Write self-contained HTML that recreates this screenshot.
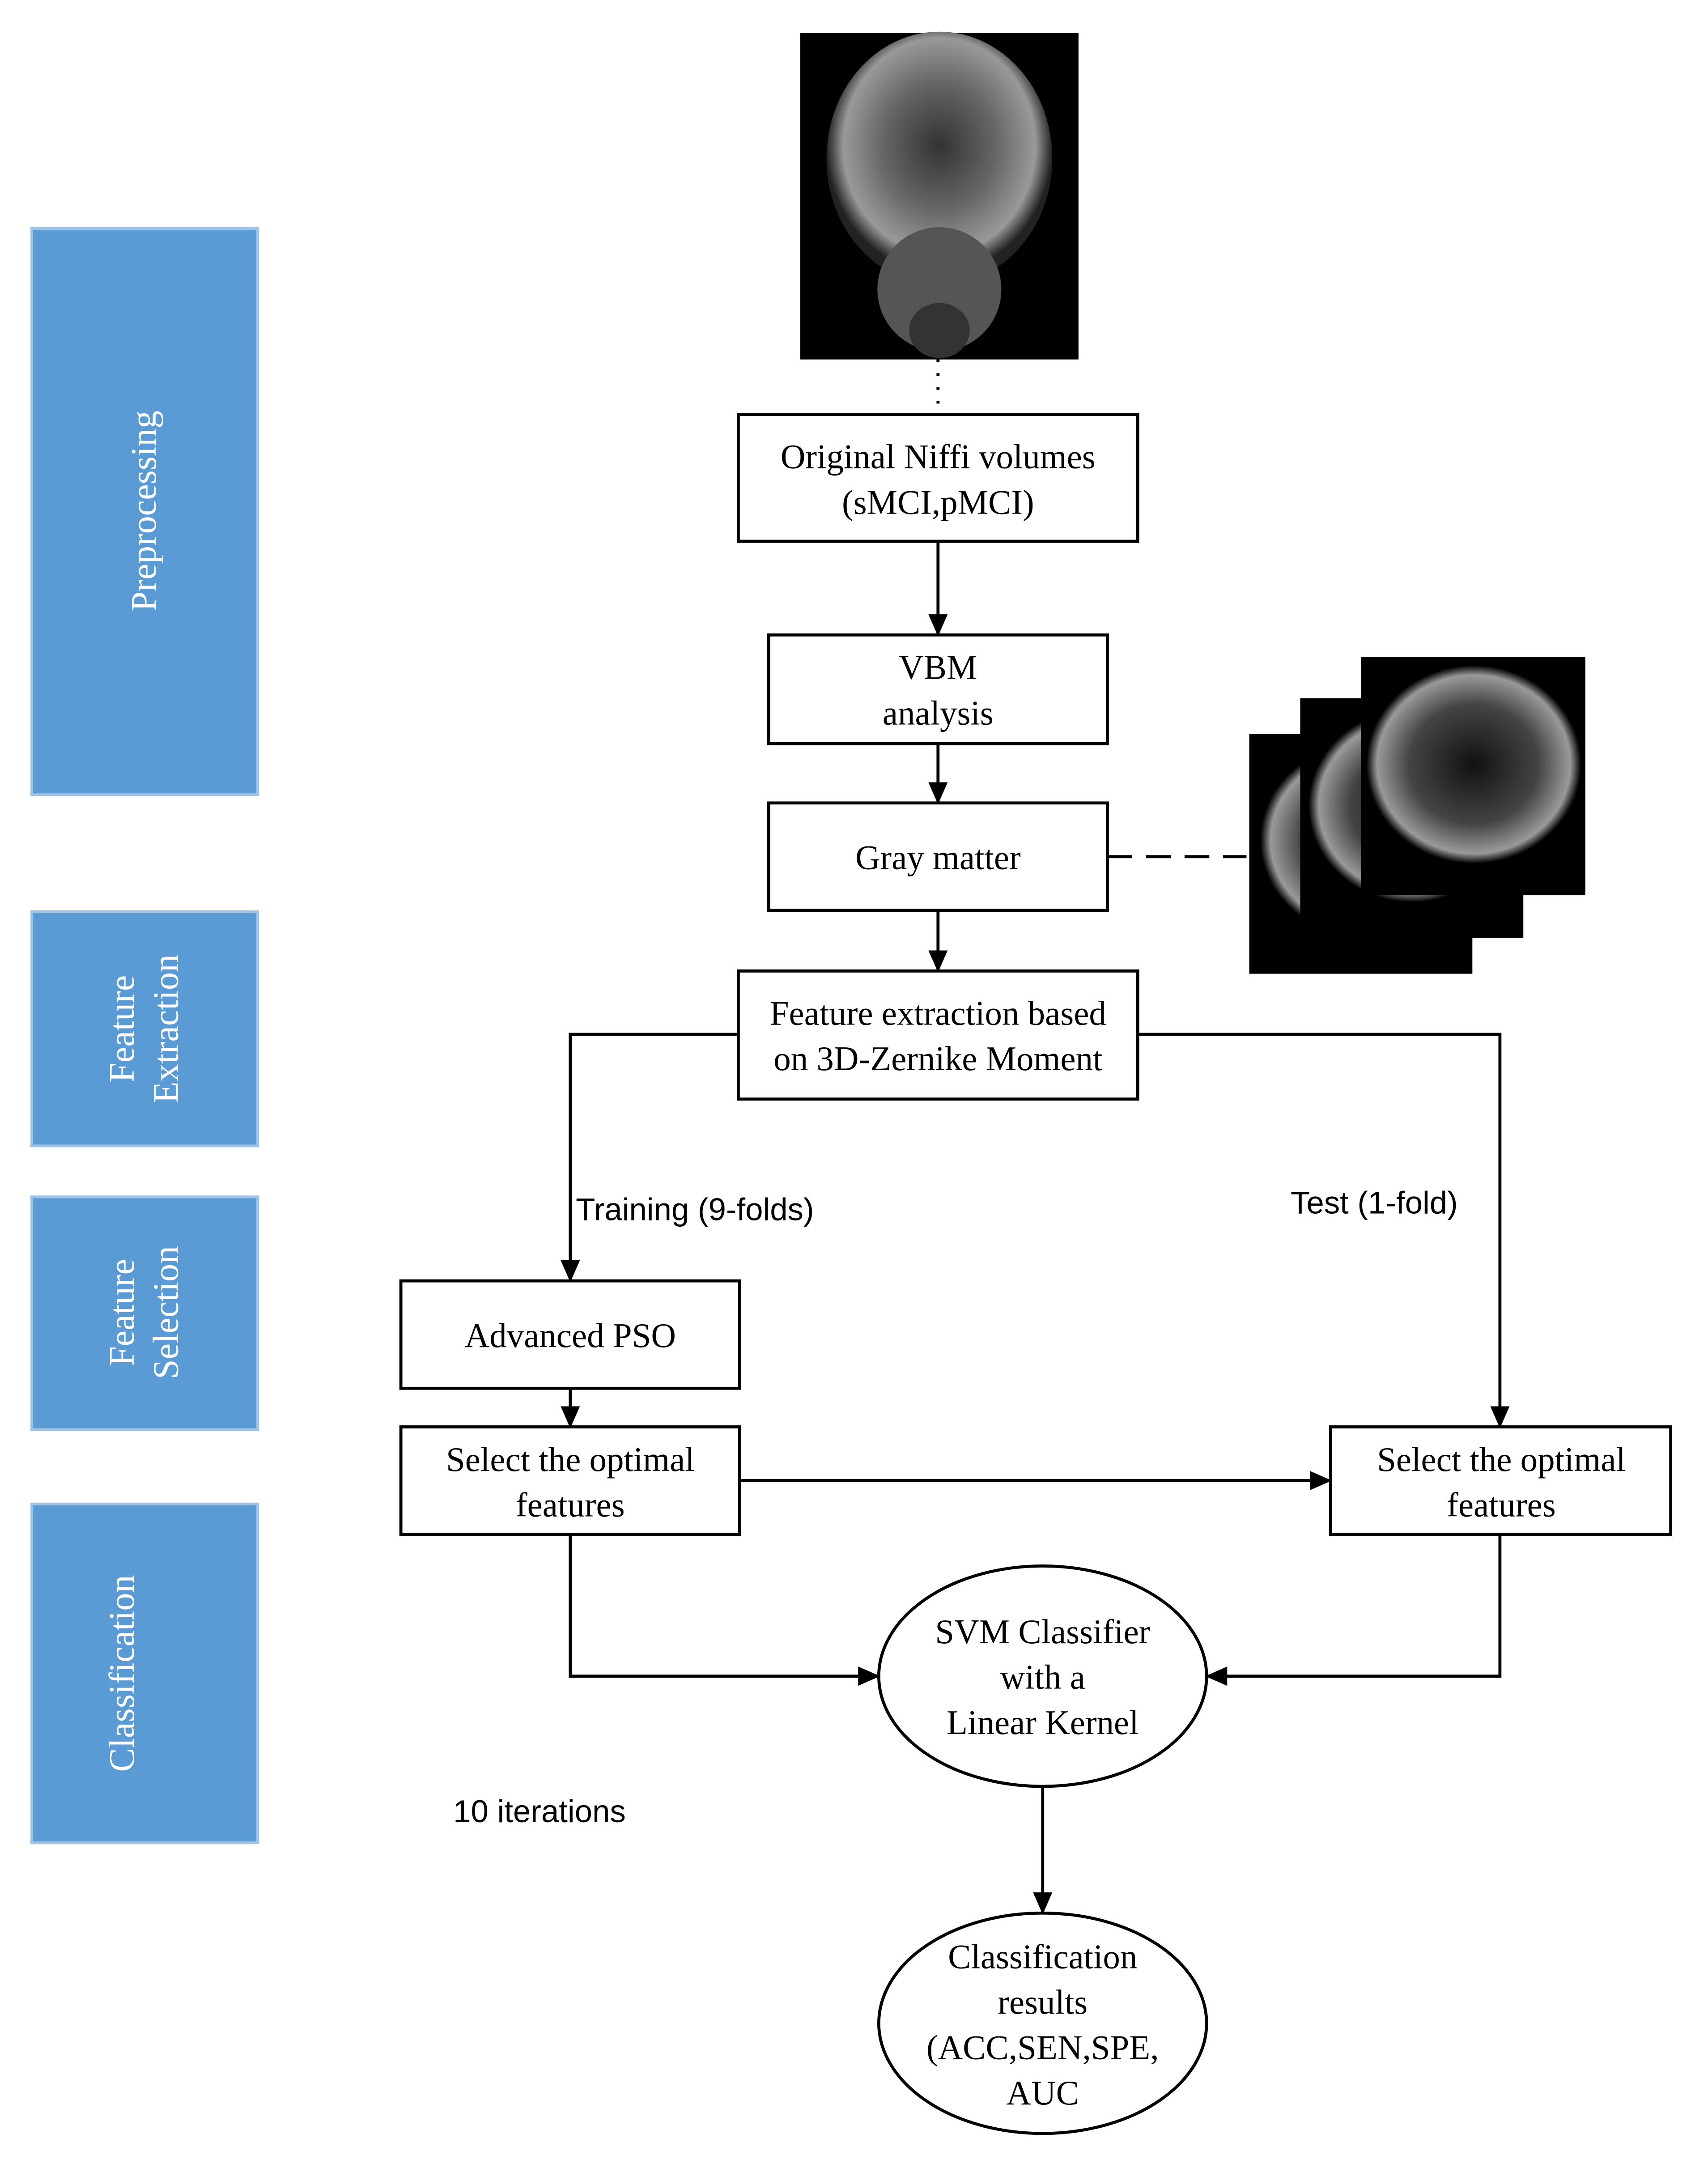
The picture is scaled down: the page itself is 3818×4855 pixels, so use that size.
<!DOCTYPE html>
<html><head><meta charset="utf-8"><style>
html,body{margin:0;padding:0;background:#fff;}
svg{display:block;}
.s{font-family:"Liberation Serif",serif;font-size:25px;fill:#000;text-anchor:middle;}
.a{font-family:"Liberation Sans",sans-serif;font-size:23px;fill:#000;}
.w{font-family:"Liberation Serif",serif;font-size:26px;fill:#fff;text-anchor:middle;}
</style></head><body>
<svg width="3818" height="4855" viewBox="0 0 1240 1577" xmlns="http://www.w3.org/2000/svg">
<defs><marker id="ar" markerWidth="16" markerHeight="14" refX="15" refY="7" orient="auto" markerUnits="userSpaceOnUse"><path d="M0,0 L16,7 L0,14 z" fill="#000"/></marker>
<radialGradient id="g1" cx="50%" cy="45%" r="50%"><stop offset="0" stop-color="#333"/><stop offset="0.5" stop-color="#666"/><stop offset="0.85" stop-color="#999"/><stop offset="1" stop-color="#222"/></radialGradient>
<radialGradient id="g2" cx="50%" cy="50%" r="50%"><stop offset="0" stop-color="#111"/><stop offset="0.6" stop-color="#444"/><stop offset="0.9" stop-color="#999"/><stop offset="1" stop-color="#000"/></radialGradient></defs>
<g fill="#5b9bd5" stroke="#9dc3e6" stroke-width="2">
<rect x="23" y="166" width="164" height="411"/><rect x="23" y="662" width="164" height="170"/>
<rect x="23" y="869" width="164" height="169"/><rect x="23" y="1092" width="164" height="246"/></g>
<text class="w" transform="translate(113,371) rotate(-90)">Preprocessing</text>
<text class="w" transform="translate(97,747) rotate(-90)">Feature</text>
<text class="w" transform="translate(129,747) rotate(-90)">Extraction</text>
<text class="w" transform="translate(97,953) rotate(-90)">Feature</text>
<text class="w" transform="translate(129,953) rotate(-90)">Selection</text>
<text class="w" transform="translate(97,1215) rotate(-90)">Classification</text>
<rect x="581" y="24" width="202" height="237" fill="#000"/>
<ellipse cx="682" cy="115" rx="82" ry="92" fill="url(#g1)"/>
<ellipse cx="682" cy="210" rx="45" ry="45" fill="#555"/>
<ellipse cx="682" cy="240" rx="22" ry="20" fill="#333"/>
<g>
<rect x="907" y="533" width="162" height="174" fill="#000"/><ellipse cx="990" cy="610" rx="75" ry="70" fill="url(#g2)"/>
<rect x="944" y="507" width="162" height="174" fill="#000"/><ellipse cx="1025" cy="585" rx="75" ry="70" fill="url(#g2)"/>
<rect x="988" y="477" width="163" height="173" fill="#000"/><ellipse cx="1070" cy="555" rx="78" ry="72" fill="url(#g2)"/>
</g>
<g stroke="#000" stroke-width="2.2" fill="#fff">
<line x1="681" y1="261" x2="681" y2="301" stroke-dasharray="2,8"/>
<rect x="536" y="301" width="290" height="92"/>
<rect x="558" y="461" width="246" height="79"/>
<rect x="558" y="583" width="246" height="78"/>
<line x1="804" y1="622" x2="905" y2="622" stroke-dasharray="18,10"/>
<rect x="536" y="705" width="290" height="93"/>
<rect x="291" y="930" width="246" height="78"/>
<rect x="291" y="1036" width="246" height="78"/>
<rect x="966" y="1036" width="247" height="78"/>
<ellipse cx="757" cy="1217" rx="119" ry="80"/>
<ellipse cx="757" cy="1469" rx="119" ry="80"/>
<g fill="none" marker-end="url(#ar)">
<line x1="681" y1="393" x2="681" y2="461"/>
<line x1="681" y1="540" x2="681" y2="583"/>
<line x1="681" y1="661" x2="681" y2="705"/>
<polyline points="536,751 414,751 414,930"/>
<polyline points="826,751 1089,751 1089,1036"/>
<line x1="414" y1="1008" x2="414" y2="1036"/>
<line x1="537" y1="1075" x2="966" y2="1075"/>
<polyline points="414,1114 414,1217 638,1217"/>
<polyline points="1089,1114 1089,1217 876,1217"/>
<line x1="757" y1="1297" x2="757" y2="1389"/>
</g></g>
<text class="s" x="681" y="340">Original Niffi volumes</text>
<text class="s" x="681" y="373">(sMCI,pMCI)</text>
<text class="s" x="681" y="493">VBM</text>
<text class="s" x="681" y="526">analysis</text>
<text class="s" x="681" y="631">Gray matter</text>
<text class="s" x="681" y="744">Feature extraction based</text>
<text class="s" x="681" y="777">on 3D-Zernike Moment</text>
<text class="s" x="414" y="978">Advanced PSO</text>
<text class="s" x="414" y="1068">Select the optimal</text>
<text class="s" x="414" y="1101">features</text>
<text class="s" x="1090" y="1068">Select the optimal</text>
<text class="s" x="1090" y="1101">features</text>
<text class="s" x="757" y="1193">SVM Classifier</text>
<text class="s" x="757" y="1226">with a</text>
<text class="s" x="757" y="1259">Linear Kernel</text>
<text class="s" x="757" y="1429">Classification</text>
<text class="s" x="757" y="1462">results</text>
<text class="s" x="757" y="1495">(ACC,SEN,SPE,</text>
<text class="s" x="757" y="1528">AUC</text>
<text class="a" x="418" y="886">Training (9-folds)</text>
<text class="a" x="937" y="881">Test (1-fold)</text>
<text class="a" x="329" y="1323">10 iterations</text>
</svg>
</body></html>
